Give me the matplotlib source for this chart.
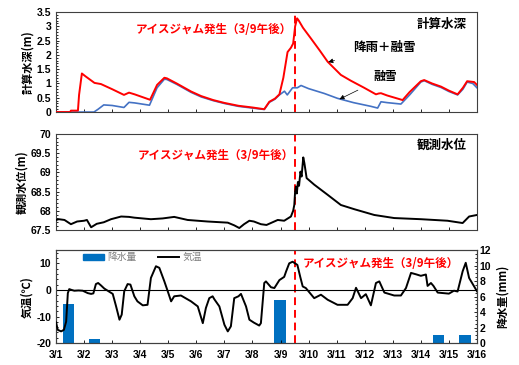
import matplotlib
matplotlib.use("Agg")
import matplotlib.pyplot as plt
from matplotlib.ticker import MultipleLocator
from matplotlib.patches import Patch
from matplotlib.lines import Line2D

plt.rcParams['font.family'] = ['Noto Sans CJK JP', 'DejaVu Sans']

# time axis: days elapsed since 3/1 00:00
DATE_LABELS = [f"3/{d}" for d in range(1, 17)]
JAM_DAY = 8.5  # 3/9 afternoon

# calculated depth, rain + snowmelt
rain_day = [0, 0.5, 0.53, 0.78, 0.82, 0.92, 1.05, 1.37, 1.6, 2.0, 2.42, 2.6, 2.8,
            3.35, 3.6, 3.86, 3.95, 4.3, 4.81, 5.17, 5.6, 6.0, 6.5, 7.0, 7.42,
            7.6, 7.8, 7.96, 8.1, 8.25, 8.37, 8.45, 8.52, 8.59, 8.65, 8.8, 9.08,
            9.4, 9.68, 10.15, 10.5, 10.98, 11.4, 11.5, 11.58, 11.8, 12.35, 12.6,
            13.0, 13.12, 13.4, 13.72, 14.0, 14.31, 14.5, 14.65, 14.9, 15.0]
rain_depth = [0, 0, 0.05, 0.05, 0.6, 1.35, 1.25, 1.02, 0.98, 0.8, 0.6, 0.68, 0.62,
              0.43, 0.95, 1.2, 1.18, 1.0, 0.72, 0.56, 0.42, 0.32, 0.22, 0.16, 0.1,
              0.36, 0.47, 0.62, 1.2, 2.1, 2.25, 2.4, 3.0, 3.28, 3.2, 2.95, 2.58,
              2.15, 1.76, 1.3, 1.1, 0.85, 0.62, 0.65, 0.66, 0.58, 0.42, 0.7,
              1.08, 1.12, 1.0, 0.89, 0.75, 0.62, 0.85, 1.08, 1.05, 0.95]

# calculated depth, snowmelt only
melt_day = [0, 1.35, 1.5, 1.7, 2.0, 2.42, 2.6, 2.8, 3.33, 3.6, 3.86, 3.95, 4.3,
            4.81, 5.17, 5.6, 6.0, 6.5, 7.0, 7.42, 7.6, 7.8, 7.96, 8.14, 8.24,
            8.43, 8.6, 8.73, 9.0, 9.56, 10.03, 10.6, 11.22, 11.46, 11.58, 11.8,
            12.29, 12.6, 13.0, 13.12, 13.4, 13.72, 14.0, 14.31, 14.5, 14.65,
            14.85, 15.0]
melt_depth = [0, 0, 0.1, 0.25, 0.23, 0.16, 0.34, 0.32, 0.24, 0.85, 1.15, 1.14,
              0.97, 0.69, 0.53, 0.4, 0.3, 0.2, 0.14, 0.09, 0.34, 0.45, 0.6, 0.73,
              0.6, 0.85, 0.85, 0.93, 0.82, 0.65, 0.48, 0.33, 0.2, 0.14, 0.36,
              0.33, 0.28, 0.6, 1.05, 1.1, 0.97, 0.86, 0.72, 0.6, 0.8, 1.05, 1.0,
              0.85]

# observed water level (m)
obs_day = [0, 0.1, 0.3, 0.53, 0.75, 1.0, 1.1, 1.25, 1.45, 1.7, 1.96, 2.32, 2.6,
           2.79, 3.38, 3.8, 4.21, 4.69, 5.4, 6.12, 6.35, 6.53, 6.7, 6.89, 7.05,
           7.3, 7.5, 7.9, 8.13, 8.37, 8.45, 8.49, 8.52, 8.55, 8.58, 8.62, 8.66,
           8.71, 8.75, 8.81, 8.85, 8.93, 9.2, 9.67, 10.15, 10.63, 11.34, 12.05,
           13.0, 13.95, 14.49, 14.72, 15.0]
obs_level = [67.76, 67.78, 67.76, 67.65, 67.72, 67.74, 67.76, 67.57, 67.66, 67.7,
             67.78, 67.85, 67.84, 67.82, 67.78, 67.8, 67.84, 67.76, 67.72, 67.69,
             67.62, 67.55, 67.65, 67.74, 67.72, 67.65, 67.63, 67.76, 67.74,
             67.85, 68.0, 68.15, 68.5, 68.63, 68.45, 68.75, 68.65, 69.02, 68.89,
             69.39, 69.24, 68.85, 68.68, 68.42, 68.15, 68.04, 67.89, 67.81,
             67.78, 67.74, 67.68, 67.85, 67.89]

# air temperature (deg C)
temp_day = [0, 0.06, 0.18, 0.28, 0.36, 0.42, 0.47, 0.55, 0.65, 0.8, 0.95, 1.13,
            1.25, 1.33, 1.42, 1.5, 1.6, 1.72, 1.84, 2.02, 2.14, 2.26, 2.34, 2.43,
            2.55, 2.65, 2.79, 2.9, 3.09, 3.26, 3.38, 3.56, 3.68, 3.86, 3.98, 4.1,
            4.21, 4.45, 4.81, 5.05, 5.23, 5.34, 5.46, 5.58, 5.64, 5.82, 6.0, 6.12,
            6.23, 6.35, 6.5, 6.59, 6.77, 6.89, 7.05, 7.24, 7.3, 7.42, 7.48, 7.66,
            7.78, 7.96, 8.13, 8.2, 8.31, 8.43, 8.6, 8.7, 8.79, 8.9, 9.2, 9.44,
            9.68, 10.03, 10.39, 10.57, 10.69, 10.87, 11.04, 11.22, 11.4, 11.52,
            11.7, 12.05, 12.29, 12.47, 12.65, 12.85, 13.0, 13.18, 13.24, 13.36,
            13.45, 13.6, 14.0, 14.18, 14.31, 14.49, 14.6, 14.72, 14.9, 15.0]
temp_c = [-12.2, -15.0, -15.6, -15.0, -11.9, -1.2, 0.3, 0.0, -0.3, -0.2, -0.3,
          -1.2, -1.5, -1.3, 2.2, 2.6, 1.7, 0.5, -0.3, -1.5, -6.2, -11.2, -9.3,
          -0.5, 2.2, 2.0, -2.4, -4.3, -5.8, -5.6, 4.5, 8.9, 8.3, 3.2, -0.5, -4.3,
          -2.4, -2.1, -4.3, -6.2, -12.5, -6.8, -3.1, -2.4, -3.5, -6.2, -13.1,
          -15.6, -13.7, -3.1, -2.4, -1.5, -6.2, -11.2, -12.3, -13.4, -12.5, 2.6,
          3.2, 1.0, 0.7, 3.7, 4.9, 7.0, 10.0, 10.6, 9.4, 5.0, 1.3, 0.7, -3.1,
          -1.8, -3.7, -5.6, -5.6, -3.1, 0.8, -3.1, -1.6, -5.8, 2.6, 3.2, -1.0,
          -2.1, -2.1, 0.7, 6.4, 5.8, 5.3, 5.8, 1.5, 2.6, 1.5, -1.0, -1.4, -0.3,
          -0.6, 7.0, 10.2, 4.5, 1.3, -0.5]

# daily precipitation (mm)
precip_day = [0.45, 1.37, 7.98, 13.64, 14.57]
precip_mm = [5.0, 0.5, 5.5, 1.0, 1.0]

JAM_TEXT = "アイスジャム発生（3/9午後）"
RED = "#ff0000"
TICK_FONT = matplotlib.font_manager.FontProperties(
    family="Liberation Sans", weight="bold", size=7.5)


def style_axes(ax):
    ax.set_xlim(0, 15)
    ax.set_xticks(range(16))
    ax.tick_params(axis="both", which="both", direction="in", length=2.5, width=0.6)
    ax.tick_params(axis="both", which="minor", length=1.5)
    for s in ax.spines.values():
        s.set_linewidth(0.8)
        s.set_color("#404040")
    for lab in ax.get_yticklabels():
        lab.set_fontproperties(TICK_FONT)
    ax.axvline(JAM_DAY, color=RED, lw=1.4, ls=(0, (4, 2.5)), zorder=1)


fig = plt.figure(figsize=(5.19, 3.65), dpi=100)
ax1 = fig.add_axes([0.108, 0.693, 0.811, 0.274])
ax2 = fig.add_axes([0.108, 0.370, 0.811, 0.263])
ax3 = fig.add_axes([0.108, 0.060, 0.811, 0.255])

# --- calculated depth ---
ax1.plot(melt_day, melt_depth, color="#4472c4", lw=1.2, zorder=2)
ax1.plot(rain_day, rain_depth, color=RED, lw=1.4, zorder=3)
ax1.set_ylim(0, 3.5)
ax1.yaxis.set_minor_locator(MultipleLocator(0.1))
ax1.set_yticks([0, 0.5, 1, 1.5, 2, 2.5, 3, 3.5])
ax1.set_yticklabels(["0", "0.5", "1", "1.5", "2", "2.5", "3", "3.5"])
ax1.set_xticklabels([])
style_axes(ax1)
ax1.set_ylabel("計算水深(m)", fontsize=8, fontweight="bold", labelpad=2)
ax1.text(0.19, 0.83, JAM_TEXT, transform=ax1.transAxes, color=RED,
         fontsize=8.3, fontweight="bold", va="center")
ax1.text(0.975, 0.88, "計算水深", transform=ax1.transAxes, fontsize=9,
         fontweight="bold", ha="right", va="center")
ax1.annotate("降雨＋融雪", xy=(9.7, 1.75), xytext=(10.6, 2.25),
             fontsize=9, fontweight="bold", va="center",
             arrowprops=dict(arrowstyle="-|>", color="black", lw=0.5,
                             mutation_scale=7, shrinkA=12, shrinkB=0))
ax1.annotate("融雪", xy=(10.1, 0.45), xytext=(11.3, 1.23),
             fontsize=8.5, fontweight="bold", va="center",
             arrowprops=dict(arrowstyle="-|>", color="black", lw=0.5,
                             mutation_scale=7, shrinkA=10, shrinkB=0))

# --- observed water level ---
ax2.plot(obs_day, obs_level, color="black", lw=1.4, zorder=3)
ax2.set_ylim(67.5, 70)
ax2.set_yticks([67.5, 68, 68.5, 69, 69.5, 70])
ax2.set_yticklabels(["67.5", "68", "68.5", "69", "69.5", "70"])
ax2.yaxis.set_minor_locator(MultipleLocator(0.1))
ax2.set_xticklabels([])
style_axes(ax2)
ax2.set_ylabel("観測水位(m)", fontsize=8, fontweight="bold", labelpad=2)
ax2.text(0.195, 0.775, JAM_TEXT, transform=ax2.transAxes, color=RED,
         fontsize=8.3, fontweight="bold", va="center")
ax2.text(0.975, 0.885, "観測水位", transform=ax2.transAxes, fontsize=9,
         fontweight="bold", ha="right", va="center")

# --- air temperature and precipitation ---
ax3r = ax3.twinx()
ax3r.bar(precip_day, precip_mm, width=0.4, color="#0070c0", zorder=2)
ax3r.set_ylim(0, 12)
ax3r.set_yticks(range(0, 13, 2))
ax3r.yaxis.set_minor_locator(MultipleLocator(0.5))
ax3r.tick_params(axis="y", which="both", direction="in", length=2.5, width=0.6, pad=2)
ax3r.tick_params(axis="y", which="minor", length=1.5)
for lab in ax3r.get_yticklabels():
    lab.set_fontproperties(TICK_FONT)
for s in ax3r.spines.values():
    s.set_linewidth(0.8)
    s.set_color("#404040")
ax3r.set_ylabel("降水量(mm)", fontsize=8, fontweight="bold", labelpad=3)

ax3.set_zorder(ax3r.get_zorder() + 1)
ax3.patch.set_visible(False)
ax3.axhline(0, color="black", lw=0.8, zorder=2)
ax3.plot(temp_day, temp_c, color="black", lw=1.4, zorder=3)
ax3.set_ylim(-20, 15)
ax3.set_yticks([-20, -10, 0, 10])
ax3.set_yticklabels(["-20", "-10", "0", "10"])
ax3.yaxis.set_minor_locator(MultipleLocator(2))
ax3.set_xticklabels(DATE_LABELS)
style_axes(ax3)
for lab in ax3.get_xticklabels():
    lab.set_fontproperties(TICK_FONT)
ax3.tick_params(axis="x", pad=5)
ax3.set_ylabel("気温(℃)", fontsize=8, fontweight="bold", labelpad=2)
ax3.text(0.587, 0.85, JAM_TEXT, transform=ax3.transAxes, color=RED,
         fontsize=8.3, fontweight="bold", va="center")

handles = [Patch(color="#0070c0"), Line2D([], [], color="black", lw=1.4)]
ax3.legend(handles, ["降水量", "気温"], ncol=2, frameon=False, loc="upper left",
           bbox_to_anchor=(0.05, 1.04), fontsize=7, labelcolor="#808080",
           handlelength=2.2, handleheight=0.6, columnspacing=2.2,
           handletextpad=0.3, borderaxespad=0.2)

fig.savefig("out.png", dpi=100)
